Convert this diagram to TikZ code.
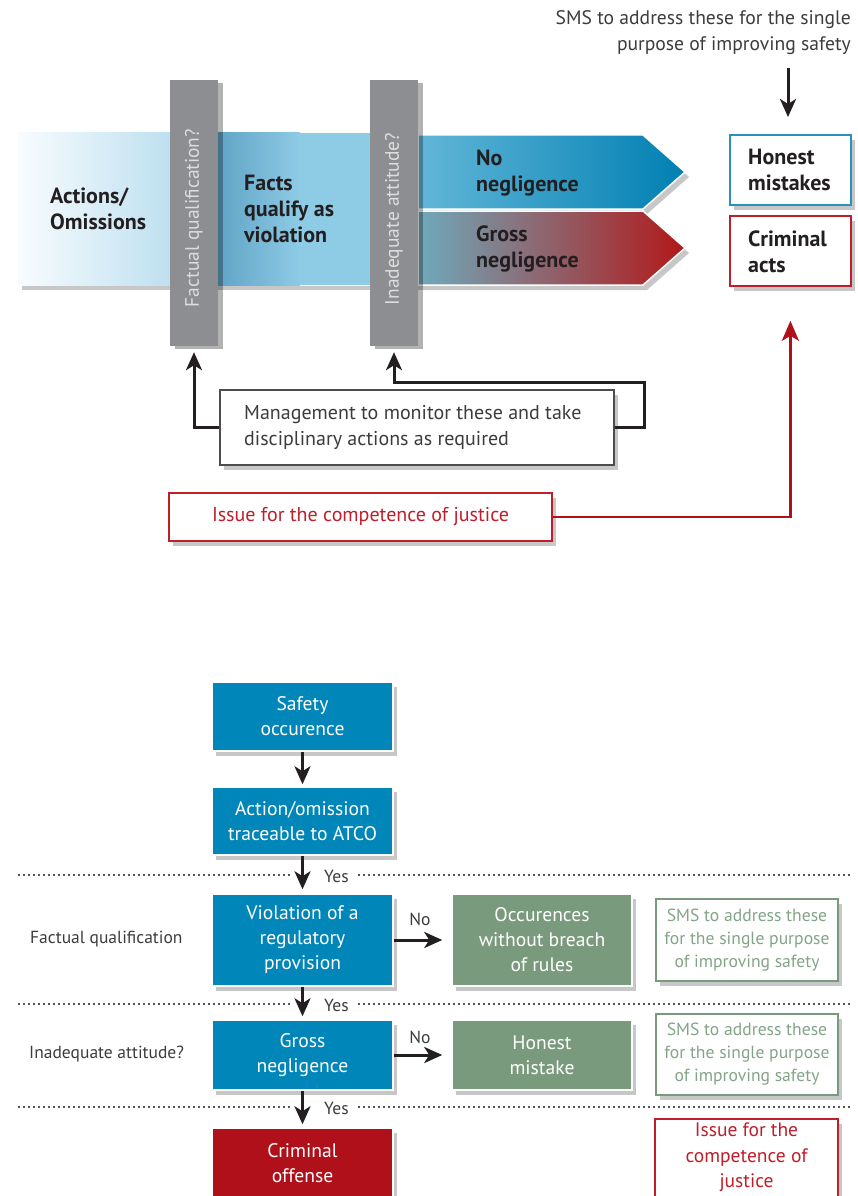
\documentclass[tikz,border=0pt]{standalone}
\usepackage{fontspec}
\setmainfont{PT Sans}
\usetikzlibrary{arrows.meta,shadows,calc}
\definecolor{ink}{HTML}{231F20}
\definecolor{boxblue}{HTML}{0086B8}
\definecolor{boxgreen}{HTML}{7A9A7E}
\definecolor{smsgreen}{HTML}{84A488}
\definecolor{boxred}{HTML}{B0101A}
\definecolor{honestblue}{HTML}{2A90C4}
\definecolor{critred}{HTML}{C01E2A}
\definecolor{txtgray}{HTML}{3C3C3C}
\definecolor{bargray}{HTML}{8D8E91}
\definecolor{bartxt}{HTML}{DDDDDD}
\definecolor{dotgray}{HTML}{555555}
\begin{document}
\begin{tikzpicture}[x=1pt,y=-1pt,
  shad/.style={drop shadow={opacity=0.22,fill=black,shadow xshift=4pt,shadow yshift=-5pt}},
  arr/.style={line width=3pt,draw=ink,-{Stealth[length=18pt,width=16pt,inset=5pt]}},
  redarr/.style={line width=2.6pt,draw=boxred,-{Stealth[length=20pt,width=17pt,inset=5pt]}},
  boldtxt/.style={font=\fontsize{22}{26}\selectfont\bfseries,text=ink,align=left,inner sep=0pt},
  plaintxt/.style={font=\fontsize{20}{26}\selectfont,text=txtgray,inner sep=0pt},
  bar/.style={fill=bargray,draw=none,minimum width=48pt,minimum height=266pt,inner sep=0pt,
     drop shadow={opacity=0.3,fill=black,shadow xshift=5pt,shadow yshift=-3pt}},
  bartext/.style={font=\fontsize{19.5}{22}\selectfont,text=bartxt,inner sep=0pt},
  resbox/.style={fill=white,line width=1.8pt,minimum width=121pt,minimum height=70pt,inner sep=0pt,shad},
  flow/.style={shad,draw=white,line width=1.5pt,text=white,minimum width=181pt,align=center,
     font=\fontsize{19.6}{25}\selectfont,inner sep=0pt},
  bluebox/.style={flow,fill=boxblue},
  greenbox/.style={flow,fill=boxgreen,minimum width=180pt},
  redbox/.style={flow,fill=boxred},
  smsbox/.style={shad,fill=white,draw=boxgreen,line width=2pt,text=smsgreen,minimum width=182pt,
     align=center,font=\fontsize{17.6}{23}\selectfont,inner sep=0pt},
  lab/.style={font=\fontsize{17.5}{20}\selectfont,text=txtgray,inner sep=0pt},
  dotline/.style={draw=dotgray,line width=1.5pt,dash pattern=on 1.5pt off 3.5pt}
]
\useasboundingbox (0,0) rectangle (857,1196);

% ---------------- top part ----------------
\node[font=\fontsize{19.6}{26}\selectfont,text=txtgray,align=right,anchor=east,inner sep=0pt] (smstop) at (851,33)
  {SMS to address these for the single\\purpose of improving safety};

% band
\path[shad,left color=white,right color=white] (18,133) rectangle (418,285);
\path[left color={rgb,255:red,248;green,252;blue,254},right color={rgb,255:red,190;green,224;blue,240}] (18,133) rectangle (170,285);
\path[left color={rgb,255:red,96;green,164;blue,198},right color={rgb,255:red,142;green,203;blue,229}] (218,133) rectangle (300,285);
\path[fill={rgb,255:red,142;green,203;blue,229}] (299,133) rectangle (370,285);

% arrows to results
\path[shad,left color={rgb,255:red,98;green,182;blue,216},right color={rgb,255:red,0;green,128;blue,178},draw=white,line width=1.5pt]
  (418,135) -- (643,135) -- (685,172) -- (643,209) -- (418,209) -- cycle;
\path[shad,left color={rgb,255:red,110;green,170;blue,188},middle color={rgb,255:red,170;green,120;blue,108},right color={rgb,255:red,178;green,24;blue,24},draw=white,line width=1.5pt]
  (418,211) -- (643,211) -- (685,248) -- (643,285) -- (418,285) -- cycle;

\node[bar] (bar1) at (194,213) {};
\node[bartext,rotate=90] (bar1t) at (194,218) {Factual qualification?};
\node[bar] (bar2) at (394,213) {};
\node[bartext,rotate=90] (bar2t) at (394,219) {Inadequate attitude?};

\node[boldtxt,anchor=west] (actions) at (50,209) {Actions/\\Omissions};
\node[boldtxt,anchor=west] (facts) at (244,209) {Facts\\qualify as\\violation};
\node[boldtxt,anchor=west] (noneg) at (476,173.5) {No\\negligence};
\node[boldtxt,anchor=west] (grossneg) at (476,248.5) {Gross\\negligence};

\node[resbox,draw=honestblue,anchor=north west] (honest) at (729,134) {};
\node[boldtxt,anchor=west] (honestt) at (748,169.5) {Honest\\mistakes};
\node[resbox,draw=critred,anchor=north west] (criminal) at (729,215) {};
\node[boldtxt,anchor=west] (criminalt) at (748,252) {Criminal\\acts};

\coordinate (smsstart) at (788,68);
\draw[arr,shorten >=17pt] (smsstart) -- (smsstart |- honest.north);

% management box
\node[shad,fill=white,draw=ink!80,line width=1.8pt,minimum width=394pt,minimum height=75pt,
      anchor=north west,inner sep=0pt] (mgmt) at (219,389) {};
\node[plaintxt,anchor=west,align=left] (mgmtt) at (244,427) {Management to monitor these and take\\disciplinary actions as required};
\draw[arr,shorten >=6pt] (mgmt.west) -| (bar1.south);
\coordinate (mr) at (644,382);
\draw[arr,shorten >=6pt] (mgmt.east) -| (mr) -| (bar2.south);

% issue box
\node[shad,fill=white,draw=critred,line width=1.8pt,minimum width=383pt,minimum height=48pt,
      inner sep=0pt,text=critred,font=\fontsize{20}{26}\selectfont] (issue) at (360.5,517)
      {Issue for the competence of justice};
\draw[redarr] (issue.east) -| ([yshift=-34pt]criminal.south);

% ---------------- bottom part ----------------
\draw[dotline] (18,875) -- (290,875);
\draw[dotline] (358,875) -- (851,875);
\draw[dotline] (18,1004) -- (290,1004);
\draw[dotline] (358,1004) -- (851,1004);
\draw[dotline] (18,1107) -- (290,1107);
\draw[dotline] (358,1107) -- (851,1107);

\node[bluebox,minimum height=69pt] (safety) at (302.5,716.5) {Safety\\occurence};
\node[bluebox,minimum height=68pt] (action) at (302.5,821) {Action/omission\\traceable to ATCO};
\node[bluebox,minimum height=92pt] (violation) at (302.5,940) {Violation of a\\regulatory\\provision};
\node[bluebox,minimum height=70pt] (gross) at (302.5,1055) {Gross\\negligence};
\node[redbox,minimum height=70pt] (offense) at (302.5,1163) {Criminal\\offense};

\node[greenbox,minimum height=92pt] (occ) at (542,940) {Occurences\\without breach\\of rules};
\node[greenbox,minimum height=70pt] (hmistake) at (542,1055) {Honest\\mistake};

\node[smsbox,minimum height=82pt] (sms1) at (747,940) {SMS to address these\\for the single purpose\\of improving safety};
\node[smsbox,minimum height=81pt] (sms2) at (747,1054.5) {SMS to address these\\for the single purpose\\of improving safety};
\node[shad,fill=white,draw=critred,line width=2pt,minimum width=183pt,minimum height=100pt,
      anchor=north,inner sep=0pt] (issue2) at (746.5,1118) {};
\node[text=critred,align=center,font=\fontsize{19.5}{25.5}\selectfont,inner sep=0pt,anchor=north] (issue2t) at (746.5,1123)
  {Issue for the\\competence of\\justice};

\draw[arr,shorten >=2pt] (safety) -- (action);
\draw[arr,shorten >=4pt] (action) -- (violation);
\draw[arr,shorten >=3pt] (violation) -- (gross);
\draw[arr,shorten >=3pt] (gross) -- (offense);
\draw[arr,shorten >=9pt] (violation) -- (occ);
\draw[arr,shorten >=9pt] (gross) -- (hmistake);

\node[lab,anchor=west] (yes1) at (324,876) {Yes};
\node[lab,anchor=west] (yes2) at (324,1005) {Yes};
\node[lab,anchor=west] (yes3) at (324,1108) {Yes};
\node[lab] (no1) at (420,919) {No};
\node[lab] (no2) at (420,1037) {No};
\node[lab,anchor=west] (fq) at (30,939) {Factual qualification};
\node[lab,anchor=west] (ia) at (29,1054) {Inadequate attitude?};
\end{tikzpicture}
\end{document}
